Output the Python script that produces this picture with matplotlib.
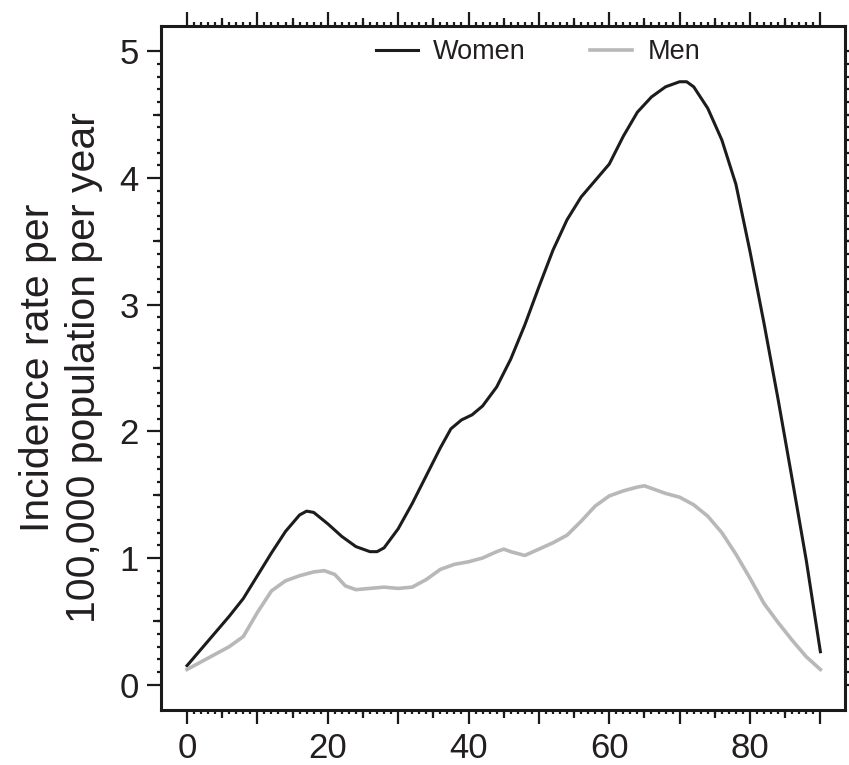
import numpy as np
import matplotlib
matplotlib.use("Agg")
import matplotlib.pyplot as plt
from matplotlib.ticker import FixedLocator, FuncFormatter

plt.rcParams["font.family"] = ["Liberation Sans", "DejaVu Sans"]

# age (years) and incidence rate per 100,000 per year
age_women = [0, 2, 4, 6, 8, 10, 12, 14, 16, 17, 18, 20, 22, 24, 26, 27, 28,
             30, 32, 34, 36, 37.5, 39, 40.5, 42, 44, 46, 48, 50, 52, 54, 56,
             58, 60, 62, 64, 66, 68, 70, 71, 72, 74, 76, 78, 80, 82, 84, 86,
             88, 90]
rate_women = [0.15, 0.28, 0.41, 0.54, 0.68, 0.86, 1.04, 1.21, 1.34, 1.37, 1.36,
              1.27, 1.17, 1.09, 1.05, 1.05, 1.08, 1.23, 1.43, 1.65, 1.87, 2.02,
              2.09, 2.13, 2.2, 2.35, 2.57, 2.84, 3.14, 3.43, 3.67, 3.85, 3.98,
              4.11, 4.33, 4.52, 4.64, 4.72, 4.76, 4.76, 4.72, 4.55, 4.3, 3.95,
              3.42, 2.85, 2.25, 1.62, 0.98, 0.26]

age_men = [0, 2, 4, 6, 8, 10, 12, 14, 16, 18, 19.5, 21, 22.5, 24, 26, 28, 30,
           32, 34, 36, 38, 40, 42, 44, 45, 46, 48, 50, 52, 54, 56, 58, 60, 62,
           64, 65, 66, 68, 70, 72, 74, 76, 78, 80, 82, 84, 86, 88, 90]
rate_men = [0.12, 0.18, 0.24, 0.3, 0.38, 0.57, 0.74, 0.82, 0.86, 0.89, 0.9,
            0.87, 0.78, 0.75, 0.76, 0.77, 0.76, 0.77, 0.83, 0.91, 0.95, 0.97,
            1.0, 1.05, 1.07, 1.05, 1.02, 1.07, 1.12, 1.18, 1.29, 1.41, 1.49,
            1.53, 1.56, 1.57, 1.55, 1.51, 1.48, 1.42, 1.33, 1.2, 1.03, 0.84,
            0.64, 0.49, 0.35, 0.22, 0.12]

text_color = "#231f20"

fig = plt.figure(figsize=(8.49, 7.65), dpi=100)
ax = fig.add_axes([0.1896, 0.0719, 0.8057, 0.8941])

ax.plot(age_women, rate_women, color="#1c1c1c", lw=2.2, label="Women",
        solid_joinstyle="round")
ax.plot(age_men, rate_men, color="#b8b8b8", lw=2.6, label="Men",
        solid_joinstyle="round")

ax.set_xlim(-3.7, 93.5)
ax.set_ylim(-0.2, 5.2)

for s in ax.spines.values():
    s.set_linewidth(2.2)
    s.set_color("#1a1a1a")

# major / minor ticks
ax.xaxis.set_major_locator(FixedLocator(np.arange(0, 91, 10)))
ax.xaxis.set_minor_locator(FixedLocator(np.arange(0, 91, 1)))
ax.xaxis.set_major_formatter(
    FuncFormatter(lambda v, p: f"{v:.0f}" if (round(v) % 20 == 0 and v <= 80) else ""))
ax.yaxis.set_major_locator(FixedLocator(np.arange(0, 6, 1)))
ax.yaxis.set_minor_locator(FixedLocator(np.round(np.arange(0, 5.01, 0.1), 2)))
ax.yaxis.set_major_formatter(FuncFormatter(lambda v, p: f"{v:.0f}"))

ax.tick_params(which="major", direction="out", length=10, width=1.6,
               color="#1a1a1a", labelsize=25, labelcolor=text_color, pad=6,
               top=True, right=True, labeltop=False, labelright=False)
ax.tick_params(which="minor", direction="out", length=3, width=1.6,
               color="#1a1a1a", top=True, right=True)

# medium ticks at the halves
for loc in ["top", "bottom"]:
    sec = ax.secondary_xaxis(loc)
    sec.set_xticks(np.arange(5, 90, 10))
    sec.tick_params(direction="out", length=6, width=1.6, color="#1a1a1a",
                    labelbottom=False, labeltop=False)
    sec.spines[loc].set_visible(False)
for loc in ["left", "right"]:
    sec = ax.secondary_yaxis(loc)
    sec.set_yticks(np.arange(0.5, 5, 1))
    sec.tick_params(direction="out", length=6, width=1.6, color="#1a1a1a",
                    labelleft=False, labelright=False)
    sec.spines[loc].set_visible(False)

ax.set_ylabel("Incidence rate per\n100,000 population per year", fontsize=29.5,
              color=text_color, linespacing=1.25, labelpad=12)

leg = ax.legend(loc="upper center", bbox_to_anchor=(0.551, 1.016), ncol=2,
                frameon=False, fontsize=19.5, handlelength=1.55,
                handletextpad=0.55, columnspacing=2.4)
for t in leg.get_texts():
    t.set_color(text_color)

fig.savefig("out.png", dpi=100)
